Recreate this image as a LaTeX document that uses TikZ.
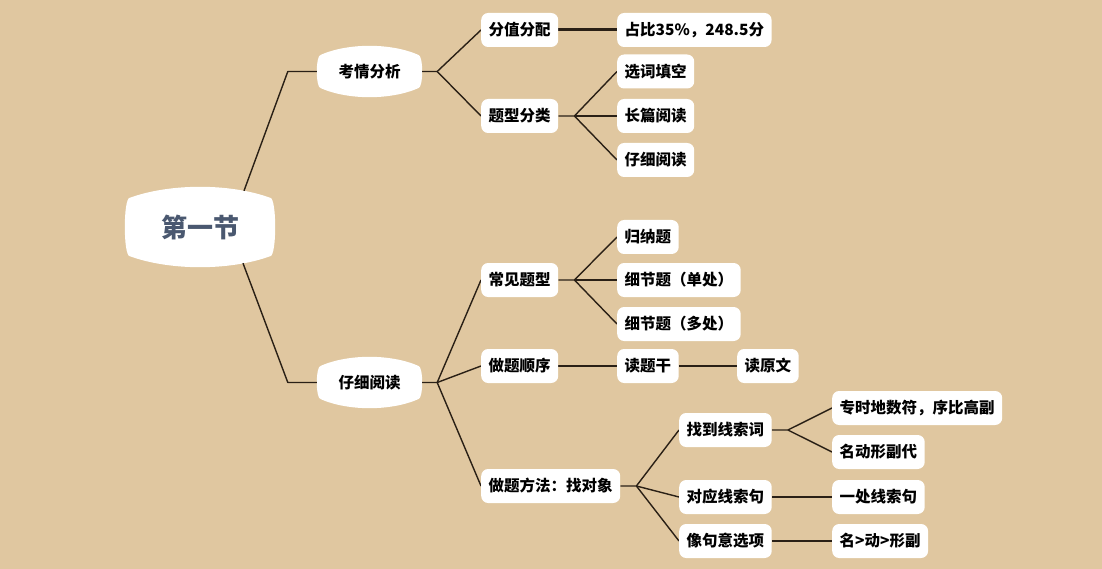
\documentclass[tikz,border=0pt]{standalone}
\usepackage{fontspec}
\setmainfont{Noto Sans CJK SC}
\usetikzlibrary{calc}
\definecolor{paper}{HTML}{E0C7A0}
\definecolor{linec}{HTML}{2A2016}
\definecolor{roottext}{HTML}{4A5870}
\pgfdeclarelayer{back}
\pgfdeclarelayer{mid}
\pgfsetlayers{back,mid,main}
\newcommand\mmbarrel[3]{%
\begin{pgfonlayer}{mid}
\fill[white] let \p1=(#1.north west), \p2=(#1.south east), \n1={\x2-\x1} in
 (\x1+#2pt,\y1-#3pt) .. controls (\x1+0.3*\n1,\y1+#3pt/3) and (\x2-0.3*\n1,\y1+#3pt/3) .. (\x2-#2pt,\y1-#3pt)
 .. controls (\x2+#2pt/3,\y1-#3pt) and (\x2+#2pt/3,\y2+#3pt) .. (\x2-#2pt,\y2+#3pt)
 .. controls (\x2-0.3*\n1,\y2-#3pt/3) and (\x1+0.3*\n1,\y2-#3pt/3) .. (\x1+#2pt,\y2+#3pt)
 .. controls (\x1-#2pt/3,\y2+#3pt) and (\x1-#2pt/3,\y1-#3pt) .. cycle;
\end{pgfonlayer}}
\begin{document}
\begin{tikzpicture}[x=1pt,y=-1pt,
  leaf/.style={fill=white,rounded corners=7pt,anchor=west,inner xsep=7.5pt,inner ysep=0pt,
    minimum height=34pt,font=\fontsize{15.5}{18}\selectfont\bfseries,text=black},
  lvlone/.style={inner sep=0pt,minimum width=105pt,minimum height=51pt,
    font=\fontsize{15.5}{18}\selectfont\bfseries,text=black},
  rootn/.style={inner sep=0pt,minimum width=150pt,minimum height=80pt,
    font=\fontsize{26}{30}\selectfont\bfseries,text=roottext},
  conn/.style={draw=linec,line width=1.4pt,line join=round},
  thick conn/.style={draw=linec,line width=3pt}]
\begin{pgfonlayer}{back}
\fill[paper] (0,0) rectangle (1102,569);
\end{pgfonlayer}
\useasboundingbox (0,0) rectangle (1102,569);

% root and level one
\node[rootn] (root) at (200,227) {第一节};
\node[lvlone] (kq) at (369.5,71.5) {考情分析};
\node[lvlone] (zx) at (369.5,382.5) {仔细阅读};
\mmbarrel{root}{5}{11}
\mmbarrel{kq}{4}{9}
\mmbarrel{zx}{4}{9}

% upper branch
\node[leaf] (fz) at (481,30) {分值分配};
\node[leaf] (zb) at (617,30) {占比35\%，248.5分};
\node[leaf] (tx) at (481,116) {题型分类};
\node[leaf] (xc) at (617,71.5) {选词填空};
\node[leaf] (cp) at (617,116) {长篇阅读};
\node[leaf] (zy) at (617,160) {仔细阅读};

% lower branch
\node[leaf] (cj) at (481,280) {常见题型};
\node[leaf] (gn) at (617,237) {归纳题};
\node[leaf] (xd) at (617,280) {细节题（单处）};
\node[leaf] (xdd) at (617,324) {细节题（多处）};
\node[leaf] (zt) at (481,366) {做题顺序};
\node[leaf] (dt) at (617,366) {读题干};
\node[leaf] (dy) at (737,366) {读原文};
\node[leaf] (ff) at (481,486) {做题方法：找对象};
\node[leaf] (zd) at (679,430) {找到线索词};
\node[leaf] (dx) at (679,497) {对应线索句};
\node[leaf] (xj) at (679,541) {像句意选项};
\node[leaf] (zs) at (832,408) {专时地数符，序比高副};
\node[leaf] (mx) at (832,452) {名动形副代};
\node[leaf] (yc) at (832,497) {一处线索句};
\node[leaf] (md) at (832,541) {名>动>形副};

% connectors
\begin{pgfonlayer}{mid}
\draw[conn] ([shift={(44,4)}]root.north) -- ([xshift=-29pt]kq.west) -- (kq.west);
\draw[conn] ([shift={(43,-4)}]root.south) -- ([xshift=-29pt]zx.west) -- (zx.west);

\draw[conn] (kq.east) -- ([xshift=15pt]kq.east) coordinate (kj) -- (fz.west);
\draw[conn] (kj) -- (tx.west);
\draw[thick conn] (fz.east) -- (zb.west);
\draw[conn] (tx.east) -- ([xshift=16pt]tx.east) coordinate (tj) -- (xc.west);
\draw[conn] (tj) -- (cp.west);
\draw[conn] (tj) -- (zy.west);

\draw[conn] (zx.east) -- ([xshift=15pt]zx.east) coordinate (zj) -- (cj.west);
\draw[conn] (zj) -- (zt.west);
\draw[conn] (zj) -- (ff.west);
\draw[conn] (cj.east) -- ([xshift=16pt]cj.east) coordinate (cjj) -- (gn.west);
\draw[conn] (cjj) -- (xd.west);
\draw[conn] (cjj) -- (xdd.west);
\draw[conn] (zt.east) -- (dt.west);
\draw[conn] (dt.east) -- (dy.west);
\draw[conn] (ff.east) -- ([xshift=16pt]ff.east) coordinate (fj) -- (zd.west);
\draw[conn] (fj) -- (dx.west);
\draw[conn] (fj) -- (xj.west);
\draw[conn] (zd.east) -- ([xshift=16pt]zd.east) coordinate (zdj) -- (zs.west);
\draw[conn] (zdj) -- (mx.west);
\draw[conn] (dx.east) -- (yc.west);
\draw[conn] (xj.east) -- (md.west);
\end{pgfonlayer}
\end{tikzpicture}
\end{document}
